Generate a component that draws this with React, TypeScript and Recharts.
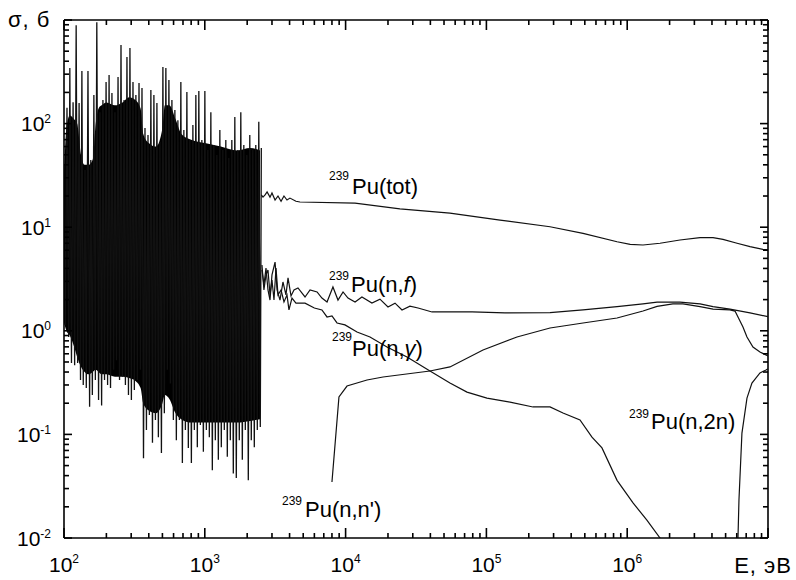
import { ComposedChart, Line, Area, XAxis, YAxis, ReferenceLine } from "recharts";

const W = 796;
const H = 580;
const M = { top: 20, right: 28, bottom: 41, left: 63 };
const PLOT_W = 704;
const PLOT_H = 518;
const FONT = '"Liberation Sans", Arial, sans-serif';
const INK = "#111";

// resolved resonance region, 100 eV .. 2.5 keV (alternating peak / valley), b
const resE = [
  100, 102, 105, 108, 110, 113, 116, 119, 122, 125,
  128, 131, 134, 137, 141, 144, 148, 152, 155, 159,
  163, 167, 171, 176, 180, 185, 189, 194, 199, 204,
  209, 214, 219, 225, 230, 236, 242, 248, 254, 260,
  267, 273, 280, 287, 294, 301, 309, 316, 324, 332,
  341, 349, 358, 367, 376, 385, 395, 404, 414, 425,
  435, 446, 457, 468, 480, 492, 504, 516, 529, 542,
  556, 570, 584, 598, 613, 628, 644, 660, 676, 693,
  710, 728, 746, 764, 783, 803, 823, 843, 864, 885,
  907, 930, 953, 977, 1001, 1026, 1051, 1077, 1104, 1131,
  1159, 1188, 1218, 1248, 1279, 1310, 1343, 1376, 1410, 1445,
  1481, 1518, 1556, 1594, 1634, 1674, 1716, 1758, 1802, 1847,
  1893, 1940, 1988, 2037, 2087, 2139, 2192, 2247, 2302, 2360,
  2418, 2478, 2520,
];
const resSigma = [
  40, 1.14, 142, 0.87, 344, 0.49, 161, 0.465, 890, 0.49,
  158, 0.335, 322, 0.3, 35.7, 0.28, 322, 0.185, 44.5, 0.24,
  189, 0.335, 950, 0.215, 129, 0.19, 169, 0.335, 252, 0.3,
  294, 0.28, 197, 0.42, 129, 0.52, 282, 0.335, 574, 0.36,
  169, 0.3, 440, 0.24, 537, 0.215, 252, 0.268, 189, 0.335,
  246, 0.42, 221, 0.059, 90.7, 0.11, 77.6, 0.154, 211, 0.083,
  189, 0.138, 158, 0.094, 66.4, 0.066, 352, 0.16, 344, 0.42,
  263, 0.31, 169, 0.138, 135, 0.088, 108, 0.138, 252, 0.053,
  86.7, 0.11, 202, 0.074, 69.5, 0.053, 97, 0.11, 189, 0.075,
  206, 0.123, 69.5, 0.068, 206, 0.11, 55.6, 0.094, 129, 0.045,
  62, 0.088, 49.8, 0.057, 86.7, 0.075, 55.6, 0.11, 69.5, 0.061,
  46.6, 0.088, 69.5, 0.042, 116, 0.038, 55.6, 0.088, 129, 0.057,
  62, 0.11, 49.8, 0.036, 77.6, 0.088, 55.6, 0.075, 62, 0.11,
  104, 0.118, 58,
];

// solid core of the resonance band (overlapping resonances)
const coreE = [
  100, 104, 110, 118, 124, 132, 140, 150, 160, 168,
  176, 185, 200, 230, 260, 290, 320, 350, 365, 400,
  450, 500, 520, 560, 620, 680, 800, 1000, 1300, 1700,
  2100, 2467,
];
const coreHi = [
  30, 90, 120, 110, 100, 50, 40, 40, 45, 100,
  140, 150, 160, 150, 160, 180, 170, 140, 80, 65,
  60, 90, 150, 150, 110, 80, 70, 65, 60, 55,
  58, 55,
];
const coreLo = [
  1.2, 1.0, 0.9, 0.7, 0.56, 0.45, 0.4, 0.38, 0.4, 0.42,
  0.4, 0.38, 0.38, 0.36, 0.36, 0.35, 0.33, 0.28, 0.2, 0.17,
  0.16, 0.2, 0.24, 0.22, 0.16, 0.14, 0.13, 0.13, 0.13, 0.13,
  0.135, 0.14,
];

// total
const totE = [
  2520, 2590, 2680, 2770, 2905, 3000, 3155, 3310, 3480, 3650,
  3835, 4025, 4440, 4740, 11670, 24300, 55100, 125000, 283000, 485700,
  847000, 1.05e6, 1.295e6, 1.71e6, 2.37e6, 3.29e6, 4.07e6, 4.79e6, 6.03e6, 7.45e6,
  9.2e6, 1e7,
];
const totSigma = [
  20.5, 19.5, 20.5, 21.9, 19.5, 21.4, 18.3, 20.0, 17.8, 20.0,
  18.3, 19.1, 17.8, 17.5, 17.1, 15.0, 13.7, 11.7, 10.1, 8.73,
  7.24, 6.84, 6.73, 7.0, 7.52, 7.93, 7.93, 7.64, 7.0, 6.49,
  6.12, 6.03,
];

// fission (n,f)
const fisE = [
  2547, 2630, 2720, 2810, 2905, 3000, 3155, 3260, 3420, 3590,
  3770, 3900, 4095, 4300, 4590, 5150, 5590, 6270, 6790, 7380,
  8130, 8830, 9590, 10400, 11670, 13060, 15380, 17540, 20000, 22440,
  25150, 28640, 32700, 41100, 79100, 135500, 283000, 485700, 847000, 1.295e6,
  1.63e6, 2.37e6, 3.29e6, 4.07e6, 5.37e6, 7.45e6, 1e7,
];
const fisSigma = [
  3.86, 2.77, 4.04, 2.48, 1.98, 3.46, 4.61, 2.48, 1.98, 2.96,
  2.22, 3.24, 2.17, 2.48, 2.59, 2.12, 2.48, 2.37, 2.07, 1.9,
  2.65, 1.98, 2.37, 2.07, 1.9, 2.12, 1.85, 2.02, 1.7, 1.85,
  1.59, 1.73, 1.66, 1.52, 1.52, 1.49, 1.5, 1.59, 1.71, 1.82,
  1.89, 1.89, 1.82, 1.71, 1.62, 1.49, 1.37,
];

// radiative capture (n,gamma)
const capE = [
  2547, 2630, 2720, 2810, 2905, 3000, 3100, 3205, 3310, 3480,
  3650, 3835, 3960, 4160, 4440, 4740, 5150, 6000, 6790, 7380,
  8000, 8690, 9900, 12050, 14900, 19680, 27300, 39750, 55100, 72800,
  100900, 147100, 214300, 283000, 350000, 462000, 562000, 662000, 847000, 1.1e6,
  1.38e6, 1.71e6, 1.85e6,
];
const capSigma = [
  4.32, 2.48, 3.46, 3.86, 2.22, 3.09, 1.98, 4.04, 2.22, 2.48,
  1.9, 2.22, 1.59, 2.07, 1.85, 1.85, 1.85, 1.66, 1.59, 1.36,
  1.39, 1.19, 1.14, 0.973, 0.871, 0.698, 0.558, 0.409, 0.313, 0.256,
  0.224, 0.205, 0.184, 0.184, 0.161, 0.138, 0.094, 0.074, 0.036, 0.0218,
  0.0149, 0.01, 0.008,
];

// inelastic (n,n')
const inelE = [
  8000, 8970, 10230, 14190, 18440, 39750, 55100, 94600, 164900, 283000,
  485700, 847000, 1.295e6, 1.63e6, 2.11e6, 2.49e6, 3.29e6, 4.07e6, 5.37e6, 5.83e6,
  6.64e6, 7.09e6, 7.82e6, 8.77e6, 1e7,
];
const inelSigma = [
  0.0347, 0.23, 0.293, 0.335, 0.358, 0.409, 0.448, 0.653, 0.871, 1.064,
  1.189, 1.33, 1.553, 1.72, 1.82, 1.82, 1.71, 1.62, 1.59, 1.55,
  1.09, 0.871, 0.698, 0.624, 0.571,
];

// (n,2n)
const n2nE = [5.98e6, 6.12e6, 6.22e6, 6.53e6, 7.09e6, 7.69e6, 8.77e6, 9.68e6, 1e7];
const n2nSigma = [0.007, 0.01, 0.0233, 0.103, 0.224, 0.313, 0.392, 0.419, 0.43];

const mult = [1, 2, 3, 4, 5, 6, 7, 8, 9];
const xDecades = [2, 3, 4, 5, 6];
const yDecades = [-2, -1, 0, 1, 2];
const xTicks = [...xDecades.flatMap((d) => mult.map((m) => m * 10 ** d)), 1e7];
const yTicks = [...yDecades.flatMap((d) => mult.map((m) => m * 10 ** d)), 1e3];

const zip = (e: number[], s: number[]) => e.map((v, i) => ({ e: v, s: s[i] }));
const coreData = coreE.map((v, i) => ({ e: v, band: [coreLo[i], coreHi[i]] }));

function decade(v: number) {
  const p = Math.log10(v);
  const r = Math.round(p);
  return { major: Math.abs(p - r) < 1e-6, p: r };
}

function XTick(props: any) {
  const { x, y, payload } = props;
  const { major, p } = decade(payload.value);
  const len = major ? 10 : 5;
  return (
    <g>
      <line x1={x} y1={y} x2={x} y2={y - len} stroke="#000" strokeWidth={1.6} />
      <line x1={x} y1={y - PLOT_H} x2={x} y2={y - PLOT_H + len} stroke="#000" strokeWidth={1.6} />
      {major && p < 7 && (
        <text x={x} y={y + 34} textAnchor="middle" fontFamily={FONT} fontSize={21} fill="#000">
          10
          <tspan dy={-9} fontSize={12}>
            {p}
          </tspan>
        </text>
      )}
      {major && p === 7 && (
        <text x={x + 24} y={y + 35} textAnchor="end" fontFamily={FONT} fontSize={22} letterSpacing={1} fill="#000">
          E, эВ
        </text>
      )}
    </g>
  );
}

function YTick(props: any) {
  const { x, y, payload } = props;
  const { major, p } = decade(payload.value);
  const len = major ? 8 : 5;
  return (
    <g>
      <line x1={x} y1={y} x2={x + len} y2={y} stroke="#000" strokeWidth={1.6} />
      <line x1={x + PLOT_W} y1={y} x2={x + PLOT_W - len} y2={y} stroke="#000" strokeWidth={1.6} />
      {major && p < 3 && (
        <text x={x - 13} y={y + 7.5} textAnchor="end" fontFamily={FONT} fontSize={21} fill="#000">
          10
          <tspan dy={-8} fontSize={12}>
            {p}
          </tspan>
        </text>
      )}
      {major && p === 3 && (
        <text x={x - 56} y={y + 7} fontFamily={FONT} fontSize={22} letterSpacing={1} fill="#000">
          σ, б
        </text>
      )}
    </g>
  );
}

const series = [
  { key: "res", data: zip(resE, resSigma), w: 1.3 },
  { key: "tot", data: zip(totE, totSigma), w: 1.2 },
  { key: "fis", data: zip(fisE, fisSigma), w: 1.2 },
  { key: "cap", data: zip(capE, capSigma), w: 1.2 },
  { key: "inel", data: zip(inelE, inelSigma), w: 1.2 },
  { key: "n2n", data: zip(n2nE, n2nSigma), w: 1.2 },
];

export default function App() {
  return (
    <div style={{ position: "absolute", left: 0, top: 0, width: W, height: H, background: "#fff" }}>
      <ComposedChart width={W} height={H} margin={M}>
        <XAxis
          dataKey="e"
          type="number"
          scale="log"
          domain={[1e2, 1e7]}
          ticks={xTicks}
          interval={0}
          allowDataOverflow
          height={1}
          tickSize={0}
          tickMargin={0}
          tickLine={false}
          axisLine={{ stroke: "#000", strokeWidth: 1.6 }}
          tick={XTick}
        />
        <YAxis
          type="number"
          scale="log"
          domain={[1e-2, 1e3]}
          ticks={yTicks}
          interval={0}
          allowDataOverflow
          width={1}
          tickSize={0}
          tickMargin={0}
          tickLine={false}
          axisLine={{ stroke: "#000", strokeWidth: 1.6 }}
          tick={YTick}
        />
        <ReferenceLine y={1e3} stroke="#000" strokeWidth={1.6} />
        <ReferenceLine x={1e7} stroke="#000" strokeWidth={1.6} />
        <Area
          data={coreData}
          dataKey="band"
          type="monotone"
          stroke="none"
          fill="#000"
          fillOpacity={1}
          dot={false}
          activeDot={false}
          isAnimationActive={false}
        />
        {series.map((sr) => (
          <Line
            key={sr.key}
            data={sr.data}
            dataKey="s"
            type="linear"
            stroke={INK}
            strokeWidth={sr.w}
            dot={false}
            activeDot={false}
            isAnimationActive={false}
          />
        ))}
      </ComposedChart>
      <svg
        width={W}
        height={H}
        style={{ position: "absolute", left: 0, top: 0, pointerEvents: "none" }}
        fontFamily={FONT}
        fill="#000"
      >
        <text x={329} y={180} fontSize={12}>239</text>
        <text x={352} y={194} fontSize={22}>Pu(tot)</text>
        <text x={329} y={280} fontSize={12}>239</text>
        <text x={351} y={292} fontSize={22}>
          Pu(n,<tspan fontStyle="italic">f</tspan>)
        </text>
        <text x={332} y={341} fontSize={12}>239</text>
        <text x={352} y={356} fontSize={22}>
          Pu(n,<tspan fontStyle="italic">γ</tspan>)
        </text>
        <text x={282} y={505} fontSize={12}>239</text>
        <text x={305} y={517} fontSize={22}>Pu(n,n')</text>
        <text x={629} y={418} fontSize={12}>239</text>
        <text x={651} y={429} fontSize={22}>Pu(n,2n)</text>
      </svg>
    </div>
  );
}
